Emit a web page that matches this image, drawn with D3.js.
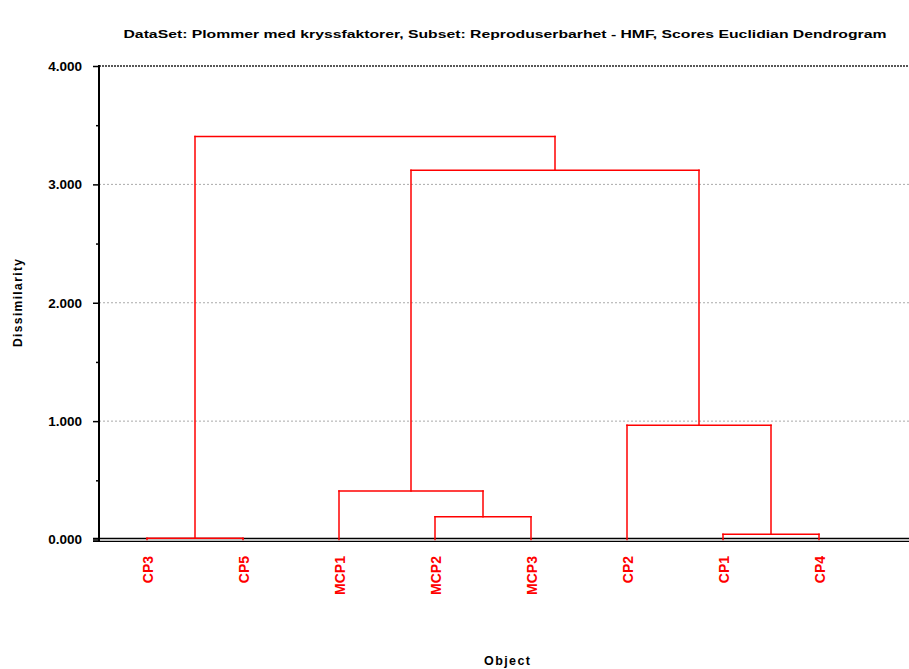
<!DOCTYPE html>
<html>
<head>
<meta charset="utf-8">
<script src="https://cdn.jsdelivr.net/npm/d3@7/dist/d3.min.js"></script>
<style>
  html, body { margin: 0; padding: 0; background: #fff; }
  svg { display: block; font-family: "Liberation Sans", Arial, sans-serif; }
</style>
</head>
<body>
<svg id="chart" width="909" height="669"></svg>
<script>
// Leaf objects in dendrogram order
const leaves = ["CP3", "CP5", "MCP1", "MCP2", "MCP3", "CP2", "CP1", "CP4"];
// Merges: [left child, right child, dissimilarity]; children are leaf names or "M<index>"
const mergeLeft  = ["CP3", "MCP2", "MCP1", "CP1", "CP2", "M2", "M0"];
const mergeRight = ["CP5", "MCP3", "M1",   "CP4", "M3",  "M4", "M5"];
const mergeHeight = [0.01, 0.192, 0.409, 0.044, 0.966, 3.12, 3.405];
const yTicks = [0, 1, 2, 3, 4];
const yMinorTicks = [0.5, 1.5, 2.5, 3.5];

const svg = d3.select("#chart");
const W = 909;
const plotLeft = 99, plotTop = 66, zeroY = 539.5;

const x = d3.scaleBand().domain(leaves).range([plotLeft, plotLeft + 8 * 96]);
const y = d3.scaleLinear().domain([0, 4]).range([zeroY, plotTop]);
const cx = d => x(d) + x.bandwidth() / 2;

// Gridlines
svg.append("g").selectAll("line").data(yTicks.filter(t => t > 0 && t < 4)).join("line")
  .attr("x1", plotLeft).attr("x2", W)
  .attr("y1", d => y(d)).attr("y2", d => y(d))
  .attr("stroke", "#aaa").attr("stroke-width", 1).attr("stroke-dasharray", "2,2");
// Top frame line (dotted, dark)
svg.append("line").attr("x1", plotLeft).attr("x2", W).attr("y1", y(4)).attr("y2", y(4))
  .attr("stroke", "#222").attr("stroke-width", 1.6).attr("stroke-dasharray", "2,1");

// Y axis
const yAxis = d3.axisLeft(y).tickValues(yTicks).tickFormat(d3.format(".3f")).tickSize(6).tickPadding(11);
const gy = svg.append("g").attr("transform", `translate(${plotLeft},0)`).call(yAxis);
gy.select(".domain").remove();
gy.selectAll(".tick line").attr("stroke", "#000").attr("stroke-width", 1.5);
gy.selectAll(".tick text").attr("font-size", 13.5).attr("font-weight", "bold").attr("fill", "#000")
  .attr("font-family", "Liberation Sans, Arial, sans-serif");
const yMinor = d3.axisLeft(y).tickValues(yMinorTicks).tickSize(3).tickFormat("");
const gym = svg.append("g").attr("transform", `translate(${plotLeft},0)`).call(yMinor);
gym.select(".domain").remove();
gym.selectAll(".tick line").attr("stroke", "#000").attr("stroke-width", 1.5);

// Dendrogram links
const nodeX = {}, nodeH = {};
leaves.forEach(l => { nodeX[l] = cx(l); nodeH[l] = 0; });
const segs = [];
mergeHeight.forEach((h, i) => {
  const a = mergeLeft[i], b = mergeRight[i];
  const xa = nodeX[a], xb = nodeX[b];
  segs.push([xa, y(nodeH[a]), xa, y(h)]);
  segs.push([xb, y(nodeH[b]), xb, y(h)]);
  segs.push([xa, y(h), xb, y(h)]);
  nodeX["M" + i] = (xa + xb) / 2;
  nodeH["M" + i] = h;
});

// X axis double line
svg.append("line").attr("x1", plotLeft - 6).attr("x2", W).attr("y1", 538.5).attr("y2", 538.5)
  .attr("stroke", "#000").attr("stroke-width", 1.3);
svg.append("line").attr("x1", plotLeft - 6).attr("x2", W).attr("y1", 541.3).attr("y2", 541.3)
  .attr("stroke", "#000").attr("stroke-width", 1.3);

svg.append("g").selectAll("line").data(segs).join("line")
  .attr("x1", d => d[0]).attr("y1", d => d[1]).attr("x2", d => d[2]).attr("y2", d => d[3])
  .attr("stroke", "#ff0000").attr("stroke-width", 1.5).attr("stroke-linecap", "square");

// Y axis line
svg.append("line").attr("x1", plotLeft).attr("x2", plotLeft).attr("y1", y(4) - 1).attr("y2", 542)
  .attr("stroke", "#000").attr("stroke-width", 2);

// Leaf labels
svg.append("g").selectAll("text").data(leaves).join("text")
  .attr("transform", d => `translate(${cx(d) + 5.5},556) rotate(-90)`)
  .attr("text-anchor", "end")
  .attr("font-size", 14).attr("font-weight", "bold").attr("fill", "#ff0000")
  .text(d => d);

// Title and axis titles
svg.append("text").attr("x", 505).attr("y", 38).attr("text-anchor", "middle")
  .attr("font-size", 11.5).attr("font-weight", "bold").attr("fill", "#000")
  .attr("textLength", 763).attr("lengthAdjust", "spacingAndGlyphs")
  .text("DataSet: Plommer med kryssfaktorer, Subset: Reproduserbarhet - HMF, Scores Euclidian Dendrogram");
svg.append("text").attr("transform", "translate(22,303) rotate(-90)").attr("text-anchor", "middle")
  .attr("font-size", 12).attr("font-weight", "bold").attr("fill", "#000")
  .attr("textLength", 88).attr("lengthAdjust", "spacing").text("Dissimilarity");
svg.append("text").attr("x", 507).attr("y", 665).attr("text-anchor", "middle")
  .attr("font-size", 12.5).attr("font-weight", "bold").attr("fill", "#000")
  .attr("textLength", 46).attr("lengthAdjust", "spacing").text("Object");
</script>
</body>
</html>
